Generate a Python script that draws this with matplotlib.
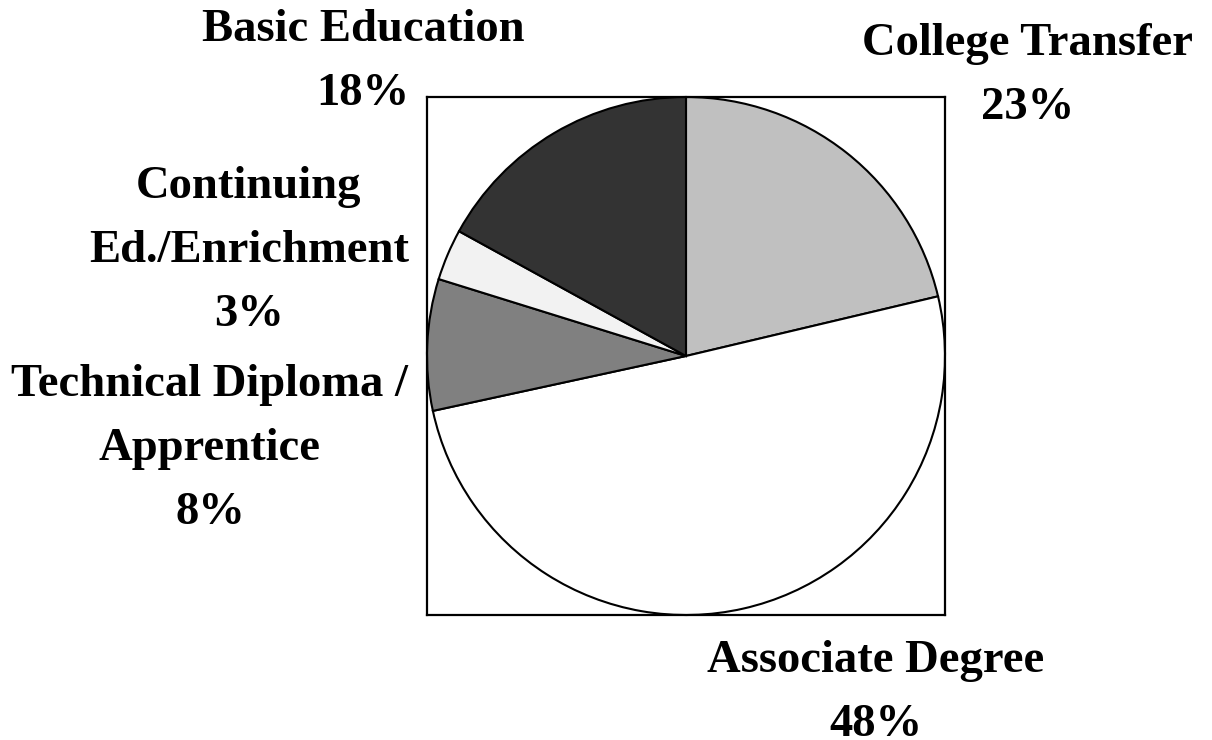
import matplotlib.pyplot as plt

# slice shares as drawn (clockwise from 12 o'clock)
categories = ['College Transfer', 'Associate Degree', 'Technical Diploma /\nApprentice',
              'Continuing\nEd./Enrichment', 'Basic Education']
shares = [21.3, 50.3, 8.2, 3.2, 17.0]
pct_labels = ['23%', '48%', '8%', '3%', '18%']
colors = ['#c0c0c0', '#ffffff', '#808080', '#f2f2f2', '#333333']

W, H = 1212, 740
fig = plt.figure(figsize=(W / 100, H / 100), dpi=100)
ax = fig.add_axes([427 / W, 1 - 615 / H, 518 / W, 518 / H])
ax.pie(shares, colors=colors, startangle=90, counterclock=False, radius=1,
       wedgeprops=dict(edgecolor='black', linewidth=1.5))
ax.set_xlim(-1, 1)
ax.set_ylim(-1, 1)
ax.set_frame_on(True)
for s in ax.spines.values():
    s.set_linewidth(1.6)
    s.set_color('black')
ax.set_xticks([])
ax.set_yticks([])

# label centres in pixels (x, y from top)
label_pos = [(1028, 76), (876, 693), (210, 449), (249, 251), (363, 62)]
for cat, pct, (px, py) in zip(categories, pct_labels, label_pos):
    fig.text(px / W, 1 - py / H, cat + '\n' + pct, ha='center', va='center',
             multialignment='center', fontsize=33.6, fontweight='bold',
             family='Liberation Serif', linespacing=1.69)

fig.savefig('out.png', dpi=100)
